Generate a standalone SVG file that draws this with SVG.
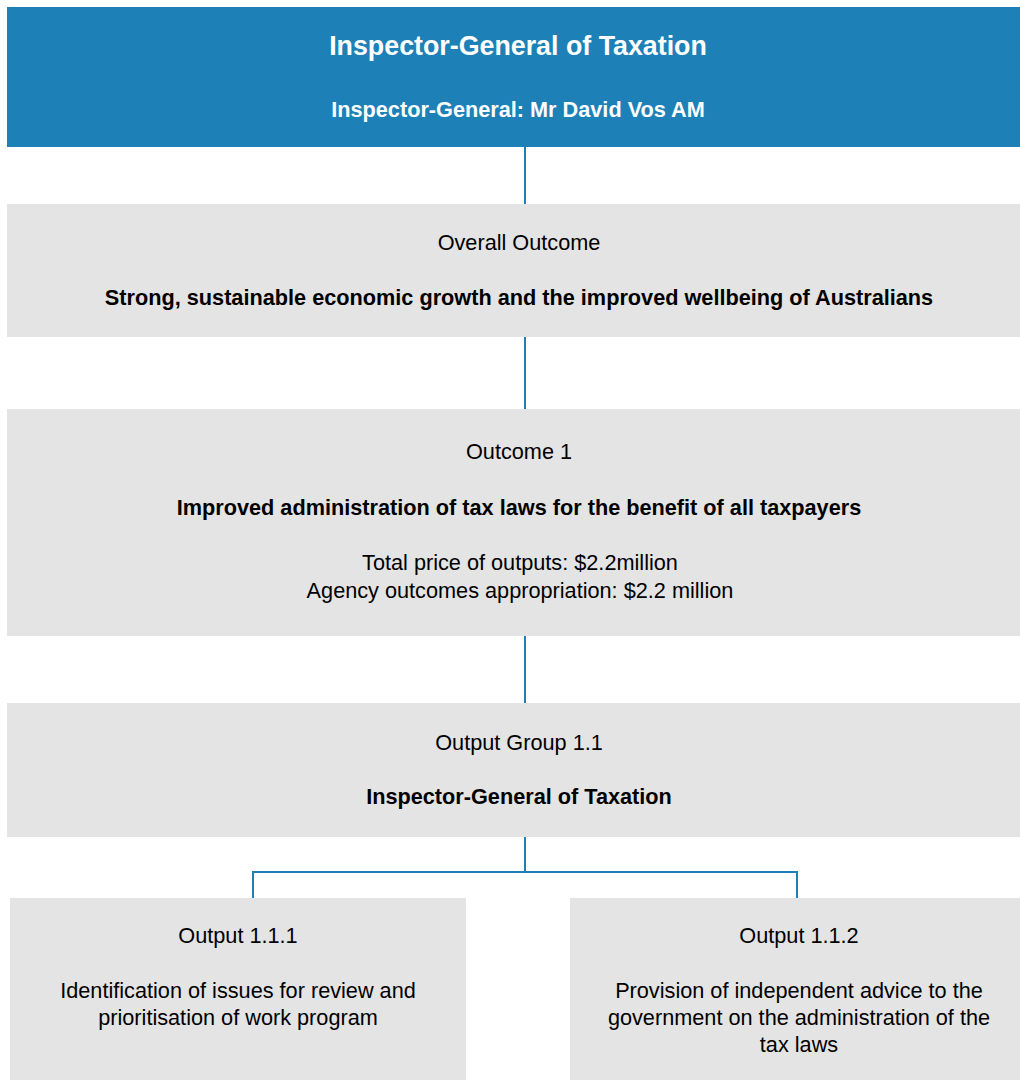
<svg xmlns="http://www.w3.org/2000/svg" width="1020" height="1080" viewBox="0 0 1020 1080">
<style>
.t{font-family:"Liberation Sans",Arial,sans-serif;font-size:21.7px;fill:#000;text-anchor:middle}
.b{font-weight:bold}
.w{fill:#fff}
.g{fill:#e4e4e4}
.c{stroke:#1d81b7;stroke-width:2;fill:none}
</style>
<rect width="1020" height="1080" fill="#fff"/>
<g id="connectors">
<line class="c" x1="525" y1="147" x2="525" y2="204"/>
<line class="c" x1="525" y1="337" x2="525" y2="409"/>
<line class="c" x1="525" y1="630" x2="525" y2="703"/>
<path class="c" d="M525 837V872M253 898V872H797V898"/>
</g>
<g id="top">
<rect x="7" y="7" width="1013" height="140" fill="#1d81b7"/>
<text class="t b w" x="518" y="55" style="font-size:26.8px">Inspector-General of Taxation</text>
<text class="t b w" x="518" y="117">Inspector-General: Mr David Vos AM</text>
</g>
<g id="overall">
<rect class="g" x="7" y="204" width="1013" height="133"/>
<text class="t" x="519" y="250">Overall Outcome</text>
<text class="t b" x="519" y="305">Strong, sustainable economic growth and the improved wellbeing of Australians</text>
</g>
<g id="outcome1">
<rect class="g" x="7" y="409" width="1013" height="227"/>
<text class="t" x="519" y="459">Outcome 1</text>
<text class="t b" x="519" y="515">Improved administration of tax laws for the benefit of all taxpayers</text>
<text class="t" x="520" y="570">Total price of outputs: $2.2million</text>
<text class="t" x="520" y="598">Agency outcomes appropriation: $2.2 million</text>
</g>
<g id="group">
<rect class="g" x="7" y="703" width="1013" height="134"/>
<text class="t" x="519" y="750">Output Group 1.1</text>
<text class="t b" x="519" y="804">Inspector-General of Taxation</text>
</g>
<g id="out1">
<rect class="g" x="10" y="898" width="456" height="182"/>
<text class="t" x="238" y="943">Output 1.1.1</text>
<text class="t" x="238" y="998">Identification of issues for review and</text>
<text class="t" x="238" y="1025">prioritisation of work program</text>
</g>
<g id="out2">
<rect class="g" x="570" y="898" width="450" height="182"/>
<text class="t" x="799" y="943">Output 1.1.2</text>
<text class="t" x="799" y="998">Provision of independent advice to the</text>
<text class="t" x="799" y="1025">government on the administration of the</text>
<text class="t" x="799" y="1052">tax laws</text>
</g>
</svg>
